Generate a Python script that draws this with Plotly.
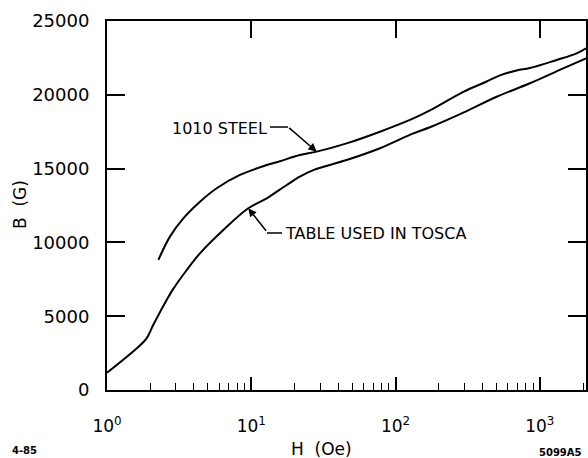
import numpy as np
import plotly.graph_objects as go

# ---- data ----
steel_H = [2.27, 2.73, 3.38, 4.41, 5.76, 8.35, 12.8, 15.8, 21.7, 28.4, 45.8, 78, 133, 173, 295, 428, 529, 691, 853, 1307, 1800, 2090]
steel_B = [8810, 10390, 11630, 12760, 13670, 14570, 15240, 15500, 15920, 16150, 16710, 17500, 18400, 18940, 20200, 20900, 21320, 21650, 21810, 22357, 22807, 23150]

tosca_H = [1.0, 1.61, 1.88, 2.09, 2.59, 2.88, 3.57, 4.41, 6.4, 9.53, 12.8, 17.6, 21.7, 26.9, 45.8, 78, 133, 173, 295, 502, 853, 1452, 2090]
tosca_B = [1170, 2830, 3500, 4400, 6100, 6850, 8130, 9260, 10840, 12310, 12990, 13890, 14450, 14900, 15580, 16380, 17390, 17800, 18790, 19870, 20780, 21795, 22470]

x_major = [1, 10, 100, 1000]
x_major_text = ["10<sup>0</sup>", "10<sup>1</sup>", "10<sup>2</sup>", "10<sup>3</sup>"]
x_minor = [m * d for d in (1, 10, 100, 1000) for m in range(2, 10) if m * d <= 2090]
y_ticks = [0, 5000, 10000, 15000, 20000, 25000]

FONT = "DejaVu Sans"
XR = [0, 3.32]

fig = go.Figure()
fig.add_trace(go.Scatter(x=steel_H, y=steel_B, mode="lines",
                         line=dict(color="black", width=2, shape="spline", smoothing=1.0),
                         hoverinfo="skip", showlegend=False))
fig.add_trace(go.Scatter(x=tosca_H, y=tosca_B, mode="lines", xaxis="x2",
                         line=dict(color="black", width=2, shape="spline", smoothing=1.0),
                         hoverinfo="skip", showlegend=False))

fig.update_layout(
    width=588, height=458,
    margin=dict(l=107, r=2, t=21, b=68, autoexpand=False),
    paper_bgcolor="white", plot_bgcolor="white",
    font=dict(family=FONT, color="black", size=17),
    xaxis=dict(type="log", range=XR, tickmode="array", tickvals=x_major, ticktext=x_major_text,
               ticks="inside", ticklen=13, tickwidth=1.5, tickcolor="black",
               showline=True, linewidth=2, linecolor="black", mirror=True,
               showgrid=False, zeroline=False, ticklabelstandoff=20, automargin=False,
               tickfont=dict(size=17, family=FONT),
               minor=dict(tickmode="array", tickvals=x_minor, ticks="inside", ticklen=7,
                          tickwidth=1.2, tickcolor="black", showgrid=False)),
    xaxis2=dict(type="log", range=XR, overlaying="x", side="top", anchor="y",
                tickmode="array", tickvals=[10, 100, 1000], ticks="inside", ticklen=17,
                tickwidth=1.5, tickcolor="black", showticklabels=False, automargin=False,
                showline=False, showgrid=False, zeroline=False),
    yaxis=dict(range=[0, 25000], tickmode="array", tickvals=y_ticks, tickformat="d",
               ticks="inside", ticklen=18, tickwidth=1.5, tickcolor="black",
               showline=True, linewidth=2, linecolor="black", mirror="ticks",
               showgrid=False, zeroline=False, ticklabelstandoff=12, automargin=False,
               tickfont=dict(size=18, family=FONT)),
)

def px2paper(px, py):
    return (px - 107) / 479.0, (390 - py) / 369.0

# leader lines (horizontal parts)
for (x0, y0, x1, y1) in [(270, 127, 288, 127), (267, 233, 282, 233)]:
    a0, b0 = px2paper(x0, y0)
    a1, b1 = px2paper(x1, y1)
    fig.add_shape(type="line", xref="paper", yref="paper", x0=a0, y0=b0, x1=a1, y1=b1,
                  line=dict(color="black", width=1.5))

# arrows
fig.add_annotation(x=np.log10(28.4), y=16150, xref="x", yref="y", text="", showarrow=True,
                   ax=-29, ay=-25, arrowhead=2, arrowsize=1.1, arrowwidth=1.5, arrowcolor="black")
fig.add_annotation(x=np.log10(9.53), y=12310, xref="x", yref="y", text="", showarrow=True,
                   ax=19, ay=24, arrowhead=2, arrowsize=1.1, arrowwidth=1.5, arrowcolor="black")

# labels
lx, ly = px2paper(269, 128)
fig.add_annotation(x=lx, y=ly, xref="paper", yref="paper", text="1010 STEEL", showarrow=False,
                   xanchor="right", yanchor="middle", font=dict(size=16, family=FONT))
lx, ly = px2paper(283, 233)
fig.add_annotation(x=lx, y=ly, xref="paper", yref="paper", text="TABLE USED IN TOSCA", showarrow=False,
                   xanchor="left", yanchor="middle", font=dict(size=16, family=FONT))

# axis titles
tx, ty = px2paper(20, 205)
fig.add_annotation(x=tx, y=ty, xref="paper", yref="paper", text="B\u00a0\u00a0(G)", showarrow=False,
                   textangle=-90, xanchor="center", yanchor="middle", font=dict(size=17, family=FONT))
tx, ty = px2paper(321, 449)
fig.add_annotation(x=tx, y=ty, xref="paper", yref="paper", text="H\u00a0\u00a0(Oe)", showarrow=False,
                   xanchor="center", yanchor="middle", font=dict(size=17, family=FONT))

# corner stamps
tx, ty = px2paper(10, 451)
fig.add_annotation(x=tx, y=ty, xref="paper", yref="paper", text="<b>4-85</b>", showarrow=False,
                   xanchor="left", yanchor="middle", font=dict(size=10, family=FONT))
tx, ty = px2paper(584, 452)
fig.add_annotation(x=tx, y=ty, xref="paper", yref="paper", text="<b>5099A5</b>", showarrow=False,
                   xanchor="right", yanchor="middle", font=dict(size=10, family=FONT))

fig.write_html("out.html")
